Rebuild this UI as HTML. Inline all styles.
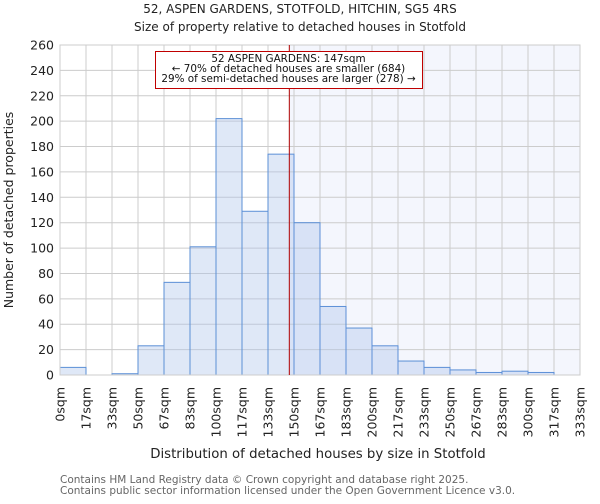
<!DOCTYPE html>
<html><head><meta charset="utf-8"><style>
body{margin:0;background:#fff;font-family:"DejaVu Sans","Liberation Sans",sans-serif;}
svg text{font-family:"DejaVu Sans","Liberation Sans",sans-serif;}
</style></head><body>
<svg id="chart" width="600" height="500" xmlns="http://www.w3.org/2000/svg">
<text x="300" y="13" text-anchor="middle" font-size="12" fill="#222">52, ASPEN GARDENS, STOTFOLD, HITCHIN, SG5 4RS</text>
<text x="300" y="31" text-anchor="middle" font-size="12" fill="#222">Size of property relative to detached houses in Stotfold</text>
<g id="grid"></g><g id="bars"></g><g id="axes"></g>
<text x="318" y="458" text-anchor="middle" font-size="13.3" fill="#222">Distribution of detached houses by size in Stotfold</text>
<text transform="translate(13,210) rotate(-90)" text-anchor="middle" font-size="12.5" fill="#222">Number of detached properties</text>
<text x="60" y="483" font-size="10.5" fill="#666">Contains HM Land Registry data © Crown copyright and database right 2025.</text>
<text x="60" y="494" font-size="10.5" fill="#666">Contains public sector information licensed under the Open Government Licence v3.0.</text>
</svg>
<script>
const binEdges=[0,17,33,50,67,83,100,117,133,150,167,183,200,217,233,250,267,283,300,317,333];
const counts=[6,0,1,23,73,101,202,129,174,120,54,37,23,11,6,4,2,3,2,0];
const yTicks=[0,20,40,60,80,100,120,140,160,180,200,220,240,260];
const propertySize=147;
const binWidth=16.667;
const X0=60,X1=580,Y0=375,Y1=45,YMAX=260;
const NS="http://www.w3.org/2000/svg";
const xs=v=>X0+v/(binWidth*counts.length)*(X1-X0);
const ys=v=>Y0-v/YMAX*(Y0-Y1);
function mk(tag,attrs,parent){const e=document.createElementNS(NS,tag);for(const k in attrs)e.setAttribute(k,attrs[k]);parent.appendChild(e);return e;}
const grid=document.getElementById('grid'),bars=document.getElementById('bars'),axes=document.getElementById('axes');
const px=xs(propertySize);
let sh=mk('rect',{x:px,y:Y1,width:X1-px,height:Y0-Y1,fill:'#f4f6fd'},grid);


yTicks.forEach(t=>{
 let l=mk('line',{x1:X0,x2:X1,y1:ys(t),y2:ys(t),stroke:'#cccccc','stroke-width':1},grid);
 
 
 let tx=mk('text',{x:X0-6,y:ys(t)+4.5,'text-anchor':'end','font-size':12.5,fill:'#222'},axes);
 tx.textContent=t;
 
 
});
binEdges.forEach((b,i)=>{
 const x=xs(i*binWidth);
 let l=mk('line',{x1:x,x2:x,y1:Y1,y2:Y0,stroke:'#cccccc','stroke-width':1},grid);
 
 
 let tx=mk('text',{transform:`translate(${x+4.5},387) rotate(-90)`,'text-anchor':'end','font-size':12.5,fill:'#222'},axes);
 tx.textContent=b+'sqm';
 
 
});
counts.forEach((c,i)=>{
 if(c<=0)return;
 const x=xs(i*binWidth),w=xs((i+1)*binWidth)-x;
 let r=mk('rect',{x:x,y:ys(c),width:w,height:Y0-ys(c),fill:'rgba(176,198,234,0.4)',stroke:'#5b8fd6','stroke-width':1},bars);
 
 
});
let bx=mk('rect',{x:X0,y:Y1,width:X1-X0,height:Y0-Y1,fill:'none',stroke:'#cccccc','stroke-width':1},axes);


let pl=mk('line',{x1:px,x2:px,y1:Y1,y2:Y0,stroke:'#b00000','stroke-width':1},axes);


let ab=mk('rect',{x:155.5,y:51.5,width:267,height:37,fill:'#fff',stroke:'#c00000','stroke-width':1},axes);


["52 ASPEN GARDENS: 147sqm","← 70% of detached houses are smaller (684)","29% of semi-detached houses are larger (278) →"].forEach((s,i)=>{
 let t=mk('text',{x:288.5,y:62+i*10,'text-anchor':'middle','font-size':10.4,fill:'#111'},axes);
 t.textContent=s;
 
 
});
</script>
</body></html>
